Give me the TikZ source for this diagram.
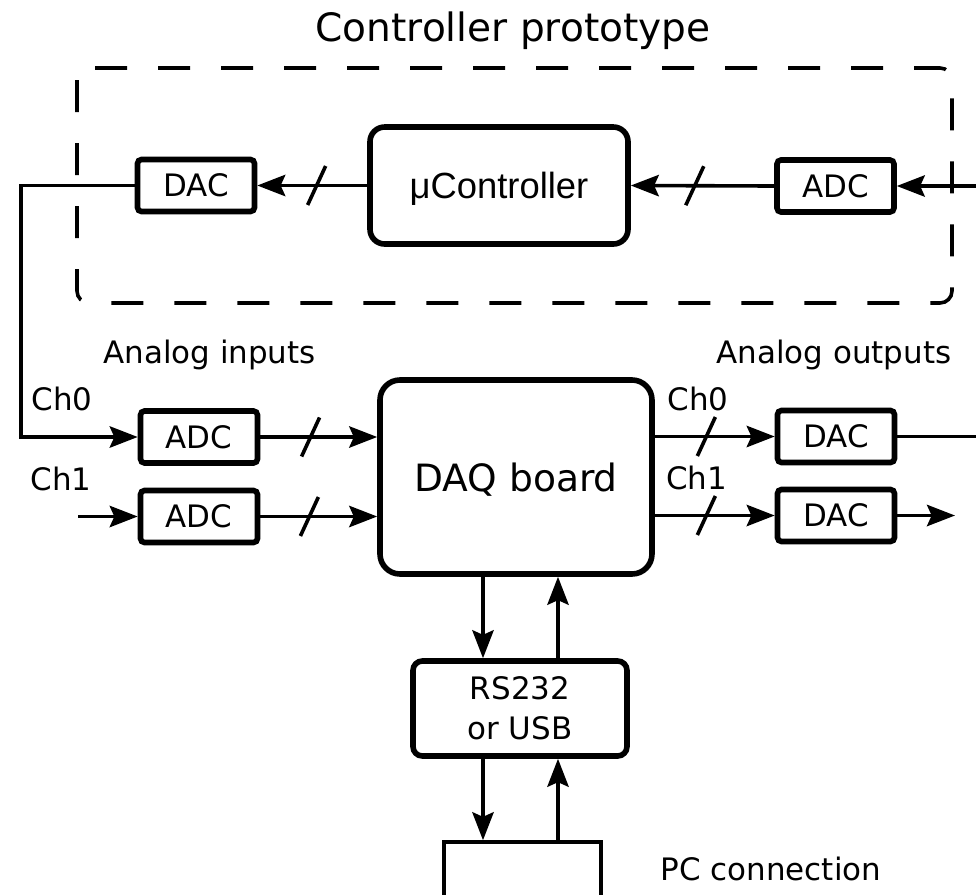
\documentclass[tikz,border=0pt]{standalone}
\usepackage{fontspec}
\setmainfont{DejaVu Sans}
\newfontfamily\arialf{Liberation Sans}
\usetikzlibrary{arrows.meta}
\newcommand\busmark[1]{\draw[conn] ([shift={(-9,19.5)}]#1) -- ([shift={(9,-19.5)}]#1);}
\begin{document}
\begin{tikzpicture}[x=0.75pt,y=-0.75pt,
  box/.style={draw, line width=4.2pt, fill=white, inner sep=0pt, text depth=0pt, font=\fontsize{23.2}{28}\selectfont},
  smallbox/.style={box, rounded corners=3pt, minimum width=87.75pt, minimum height=39pt},
  conn/.style={line width=2.7pt},
  arr/.style={conn, -{Stealth[length=21pt,width=16pt,inset=3.5pt]}},
  lbl/.style={inner sep=0pt, anchor=base, font=\fontsize{23.2}{28}\selectfont},
]
\useasboundingbox (0,0) rectangle (976,894);
\clip (0,0) rectangle (976,894);

% dashed frame
\draw[conn, dash pattern=on 24pt off 23.25pt, rounded corners=9pt] (77,68) rectangle (952,303);
\node[lbl, font=\fontsize{29.3}{34}\selectfont] (title) at (513,41) {Controller prototype};

% nodes
\node[smallbox] (dacL) at (196,185.5) {DAC};
\node[box, rounded corners=11pt, minimum width=193.5pt, minimum height=87.75pt, font=\arialf\fontsize{27.3}{32}\selectfont] (mu) at (499,185.5) {μController};
\node[smallbox] (adcR) at (835.5,186) {ADC};
\node[smallbox] (adcL1) at (199,437) {ADC};
\node[smallbox] (adcL2) at (199,516.5) {ADC};
\node[box, rounded corners=15pt, minimum width=204pt, minimum height=145.5pt, font=\fontsize{28.2}{34}\selectfont] (daq) at (516,477) {DAQ board};
\node[smallbox] (dacR1) at (836,436.5) {DAC};
\node[smallbox] (dacR2) at (836,515.5) {DAC};
\node[box, rounded corners=7pt, minimum width=160.5pt, minimum height=71.25pt, align=center, font=\fontsize{23.2}{30}\selectfont] (rs) at (520,708.5) {RS232\\or USB};
\node[draw, line width=2.7pt, minimum width=117.75pt, minimum height=88.5pt, inner sep=0pt] (pc) at (522.5,901) {};

% labels
\node[lbl] (ain) at (209.5,363) {Analog inputs};
\node[lbl] (aout) at (834,363) {Analog outputs};
\node[lbl] (chL0) at (62,410.7) {Ch0};
\node[lbl] (chL1) at (61,490) {Ch1};
\node[lbl] (chR0) at (698,410.7) {Ch0};
\node[lbl] (chR1) at (696.5,489) {Ch1};
\node[lbl] (pcl) at (771,880) {PC connection};

% helper coordinates
\coordinate (inR) at (976,186);
\coordinate (fb) at (21,0);
\coordinate (inL) at (78,0);
\coordinate (outE) at (955,0);
\coordinate (edgeR) at (976,0);
\coordinate (vd) at (483,0);
\coordinate (vu) at (558,0);

% connectors
\draw[arr] (inR) -- (adcR.east);
\draw[arr] (adcR.west) -- coordinate[pos=0.554] (s2) (mu.east);
\draw[arr] (mu.west) -- coordinate[pos=0.46] (s1) (dacL.east);
\draw[arr] (dacL.west) -- (dacL.west -| fb) |- (adcL1.west);
\draw[arr] (adcL2.west -| inL) -- (adcL2.west);
\draw[arr] (adcL1.east) -- coordinate[pos=0.43] (s3) (adcL1.east -| daq.west);
\draw[arr] (adcL2.east) -- coordinate[pos=0.42] (s4) (adcL2.east -| daq.west);
\draw[arr] (dacR1.west -| daq.east) -- coordinate[pos=0.43] (s5) (dacR1.west);
\draw[arr] (dacR2.west -| daq.east) -- coordinate[pos=0.43] (s6) (dacR2.west);
\draw[conn] (dacR1.east) -- (dacR1.east -| edgeR);
\draw[arr] (dacR2.east) -- (dacR2.east -| outE);
\draw[arr] (daq.south -| vd) -- (rs.north -| vd);
\draw[arr] (rs.north -| vu) -- (daq.south -| vu);
\draw[arr] (rs.south -| vd) -- (pc.north -| vd);
\draw[arr] (pc.north -| vu) -- (rs.south -| vu);

\busmark{s1}
\busmark{s2}
\busmark{s3}
\busmark{s4}
\busmark{s5}
\busmark{s6}
\end{tikzpicture}
\end{document}
